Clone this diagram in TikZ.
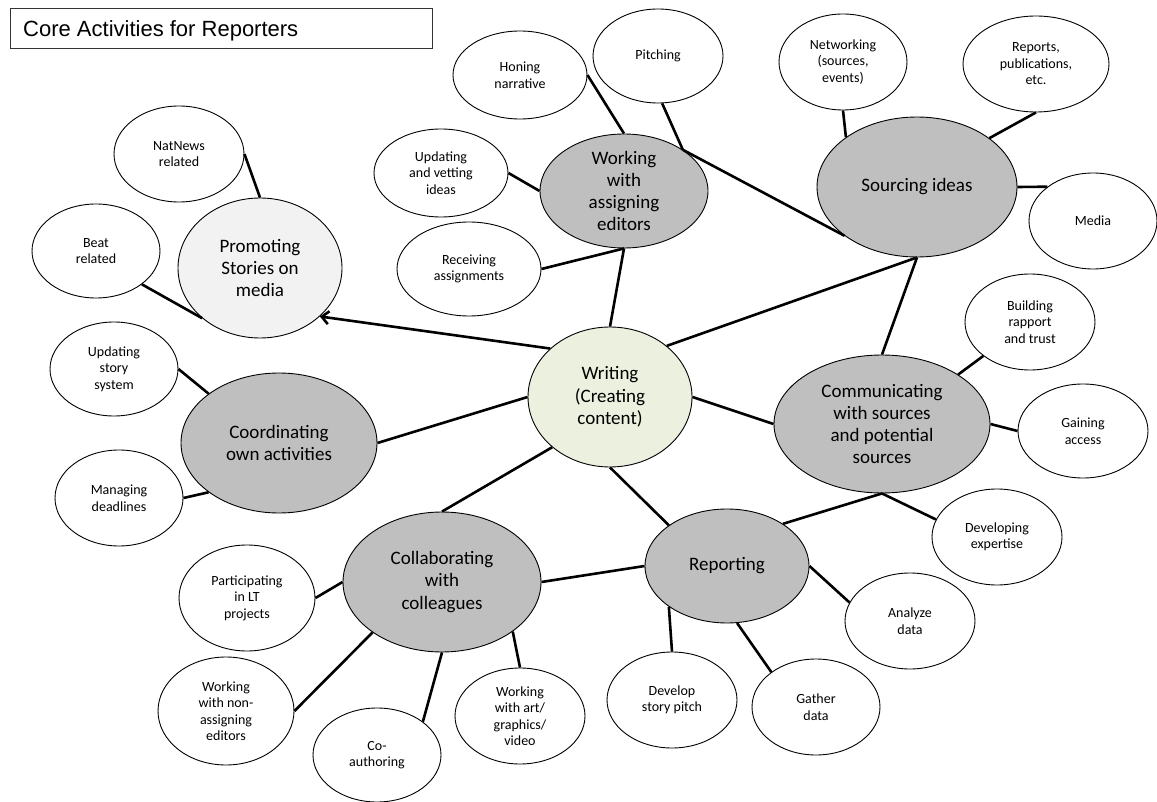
\documentclass[tikz,border=0pt]{standalone}
\usepackage{fontspec}
\setmainfont{Carlito}
\newfontfamily\arialf{Liberation Sans}
\usetikzlibrary{shapes.geometric,arrows.meta}
\definecolor{midgray}{HTML}{BFBFBF}
\definecolor{lightgray2}{HTML}{F2F2F2}
\definecolor{palegreen}{HTML}{EBF1DE}
\newcommand{\Bub}[7]{%
  \node[#2, minimum width=#5pt, minimum height=#6pt] (#1) at (#3,#4) {};
  \node[#2txt] (#1-t) at (#1.center) {#7};}
\tikzset{
  sm/.style={ellipse, draw=black, line width=0.9pt, inner sep=0pt, fill=white},
  bg/.style={sm, fill=midgray},
  pr/.style={sm, fill=lightgray2},
  wr/.style={sm, fill=palegreen},
  smtxt/.style={font=\fontsize{14}{16.5}\selectfont, align=center, inner sep=0pt},
  bgtxt/.style={font=\fontsize{19}{22.3}\selectfont, align=center, inner sep=0pt},
  prtxt/.style={bgtxt},
  wrtxt/.style={bgtxt},
  link/.style={line width=2.6pt},
  titlebox/.style={draw=black!80, line width=0.9pt, fill=white}
}
\begin{document}
\begin{tikzpicture}[x=1pt,y=-1pt]
\useasboundingbox (0,0) rectangle (1157,802);
% title
\node[titlebox, minimum width=422pt, minimum height=40pt, inner sep=0pt] (title) at (221,28) {};
\node[font=\arialf\fontsize{22}{26}\selectfont, anchor=base west, inner sep=0pt] (title-t) at (23,37) {Core Activities for Reporters};
% bubbles
\Bub{nat}{sm}{179}{154}{130}{96}{NatNews\\related}
\Bub{beat}{sm}{96}{251}{128}{94}{Beat\\related}
\Bub{prom}{pr}{260}{268}{164}{140}{Promoting\\Stories on\\media}
\Bub{hon}{sm}{520}{75}{134}{88}{Honing\\narrative}
\Bub{pit}{sm}{658}{56}{130}{94}{Pitching}
\Bub{upd}{sm}{441}{173}{134}{88}{Updating\\and vetting\\ideas}
\Bub{wae}{bg}{624}{191}{168}{114}{Working\\with\\assigning\\editors}
\Bub{rec}{sm}{469}{269}{144}{94}{Receiving\\assignments}
\Bub{net}{sm}{843}{62}{128}{96}{Networking\\(sources,\\events)}
\Bub{rep}{sm}{1036}{64}{146}{96}{Reports,\\publications,\\etc.}
\Bub{src}{bg}{917}{187}{200}{140}{Sourcing ideas}
\Bub{med}{sm}{1093}{221}{128}{96}{Media}
\Bub{wri}{wr}{610}{397}{164}{140}{Writing\\(Creating\\content)}
\Bub{com}{bg}{882}{424}{216}{138}{Communicating\\with sources\\and potential\\sources}
\Bub{bld}{sm}{1030}{322}{130}{96}{Building\\rapport\\and trust}
\Bub{gain}{sm}{1083}{431}{130}{94}{Gaining\\access}
\Bub{dev}{sm}{997}{537}{130}{96}{Developing\\expertise}
\Bub{rpt}{bg}{727}{566}{164}{114}{Reporting}
\Bub{ana}{sm}{910}{621}{130}{96}{Analyze\\data}
\Bub{gat}{sm}{816}{707}{128}{96}{Gather\\data}
\Bub{dsp}{sm}{672}{700}{130}{96}{Develop\\story pitch}
\Bub{col}{bg}{442}{582}{198}{140}{Collaborating\\with\\colleagues}
\Bub{part}{sm}{247}{598}{136}{106}{Participating\\in LT\\projects}
\Bub{nona}{sm}{226}{711}{136}{108}{Working\\with non-\\assigning\\editors}
\Bub{coa}{sm}{377}{755}{128}{94}{Co-\\authoring}
\Bub{art}{sm}{520}{716}{130}{96}{Working\\with art/\\graphics/\\video}
\Bub{ups}{sm}{114}{369}{128}{94}{Updating\\story\\system}
\Bub{coo}{bg}{279}{443}{196}{140}{Coordinating\\own activities}
\Bub{man}{sm}{119}{498}{128}{96}{Managing\\deadlines}
% connectors
\draw[link] (nat.east) -- (prom.north);
\draw[link] (beat.-36) -- (prom.221);
\draw[link] (hon.east) -- (wae.north);
\draw[link] (pit.-85) -- (wae.35);
\draw[link] (wae.35) -- (src.214);
\draw[link] (upd.east) -- (wae.west);
\draw[link] (rec.east) -- (wae.south);
\draw[link] (wae.south) -- (wri.north);
\draw[link] (net.south) -- (src.145);
\draw[link] (rep.south) -- (src.34);
\draw[link] (src.east) -- (med.143);
\draw[link] (src.south) -- (wri.42);
\draw[link] (src.south) -- (com.north);
\draw[link] (com.33) -- (bld.216);
\draw[link] (com.east) -- (gain.west);
\draw[link] (com.south) -- (dev.164);
\draw[link] (com.south) -- (rpt.37);
\draw[link] (wri.east) -- (com.west);
\draw[link] (wri.south) -- (rpt.145);
\draw[link] (rpt.215) -- (dsp.north);
\draw[link] (rpt.-80) -- (gat.142);
\draw[link] (rpt.east) -- (ana.163);
\draw[link] (col.east) -- (rpt.west);
\draw[link] (wri.221) -- (col.north);
\draw[link] (part.east) -- (col.west);
\draw[link] (nona.east) -- (col.216);
\draw[link] (coa.36) -- (col.south);
\draw[link] (art.north) -- (col.-35);
\draw[link] (wri.west) -- (coo.east);
\draw[link] (ups.east) -- (coo.145);
\draw[link] (man.east) -- (coo.215);
\draw[link, -{Straight Barb[length=7pt,width=13pt]}] (wri.141) -- (prom.-39);
\end{tikzpicture}
\end{document}
